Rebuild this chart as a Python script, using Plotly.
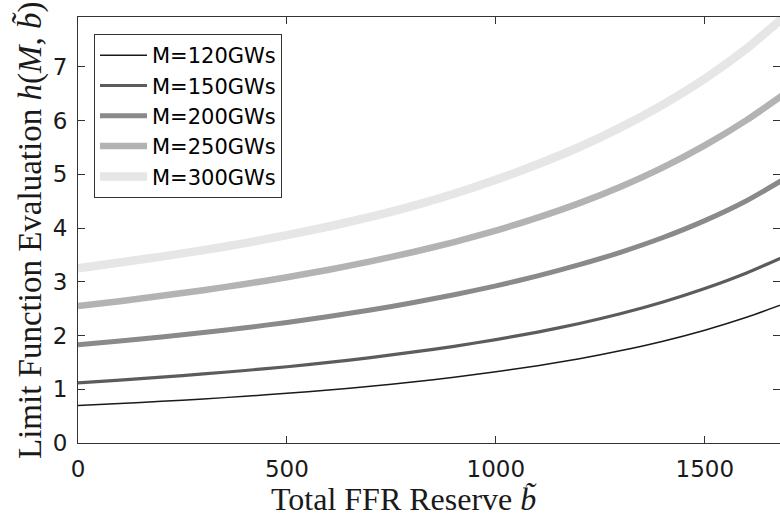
import plotly.graph_objects as go

b_values = [0, 100, 200, 300, 400, 500, 600, 700, 800, 900, 1000, 1100, 1200, 1300, 1400, 1500, 1600, 1700]

series_names = ["M=120GWs", "M=150GWs", "M=200GWs", "M=250GWs", "M=300GWs"]

h_m120 = [0.700, 0.735, 0.775, 0.820, 0.870, 0.925, 0.985, 1.055, 1.135, 1.225, 1.325, 1.440, 1.570, 1.720, 1.895, 2.100, 2.340, 2.620]
h_m150 = [1.120, 1.170, 1.225, 1.285, 1.350, 1.420, 1.500, 1.590, 1.690, 1.800, 1.925, 2.065, 2.225, 2.410, 2.625, 2.875, 3.165, 3.505]
h_m200 = [1.830, 1.900, 1.975, 2.055, 2.145, 2.245, 2.355, 2.475, 2.610, 2.760, 2.925, 3.110, 3.320, 3.555, 3.825, 4.140, 4.510, 4.960]
h_m250 = [2.550, 2.640, 2.740, 2.845, 2.960, 3.085, 3.225, 3.380, 3.550, 3.740, 3.955, 4.195, 4.465, 4.775, 5.130, 5.540, 6.010, 6.550]
h_m300 = [3.250, 3.360, 3.470, 3.590, 3.720, 3.870, 4.030, 4.210, 4.410, 4.640, 4.900, 5.190, 5.510, 5.880, 6.300, 6.780, 7.340, 8.000]

series_values = [h_m120, h_m150, h_m200, h_m250, h_m300]
line_colors = ["#1a1a1a", "#5c5c5c", "#8a8a8a", "#b3b3b3", "#e6e6e6"]
line_widths = [1.5, 3.2, 5, 6.5, 8.5]

x_ticks = [0, 500, 1000, 1500]
y_ticks = [0, 1, 2, 3, 4, 5, 6, 7]

x_title = "Total FFR Reserve <i>b̃</i>"
y_title = "Limit Function Evaluation <i>h</i>(<i>M</i>, <i>b̃</i>)"

fig = go.Figure()
for name, vals, col, w in zip(series_names, series_values, line_colors, line_widths):
    fig.add_trace(go.Scatter(x=b_values, y=vals, mode="lines", name=name,
                             line=dict(color=col, width=w, shape="spline", smoothing=0.6)))

axis_color = "#333333"
tick_font = dict(family="DejaVu Sans", size=23, color="#1a1a1a")
fig.update_layout(
    width=780, height=520,
    margin=dict(l=78, r=0, t=17, b=77),
    paper_bgcolor="white", plot_bgcolor="white",
    showlegend=True,
    legend=dict(x=0.0228, y=0.96, xanchor="left", yanchor="top",
                bgcolor="white", bordercolor="#333333", borderwidth=1,
                font=dict(family="DejaVu Sans", size=21, color="#000000"),
                itemwidth=47, tracegroupgap=0),
    xaxis=dict(range=[0, 1680], tickvals=x_ticks, ticks="inside", ticklen=7,
               tickcolor=axis_color, showline=True, linecolor=axis_color, linewidth=1,
               mirror="ticks", showgrid=False, zeroline=False,
               ticklabelstandoff=5, tickfont=tick_font),
    yaxis=dict(range=[0, 7.93], tickvals=y_ticks, ticks="inside", ticklen=7,
               tickcolor=axis_color, showline=True, linecolor=axis_color, linewidth=1,
               mirror="ticks", showgrid=False, zeroline=False,
               ticklabelstandoff=5, tickfont=tick_font),
    annotations=[
        dict(text=x_title, xref="paper", yref="paper", x=0.464, y=-0.132,
             xanchor="center", yanchor="middle", showarrow=False,
             font=dict(family="Liberation Serif", size=32, color="#1a1a1a")),
        dict(text=y_title, xref="paper", yref="paper", x=-0.0684, y=0.5,
             xanchor="center", yanchor="middle", showarrow=False, textangle=-90,
             font=dict(family="Liberation Serif", size=33, color="#1a1a1a")),
    ],
)

fig.write_html("out.html")
